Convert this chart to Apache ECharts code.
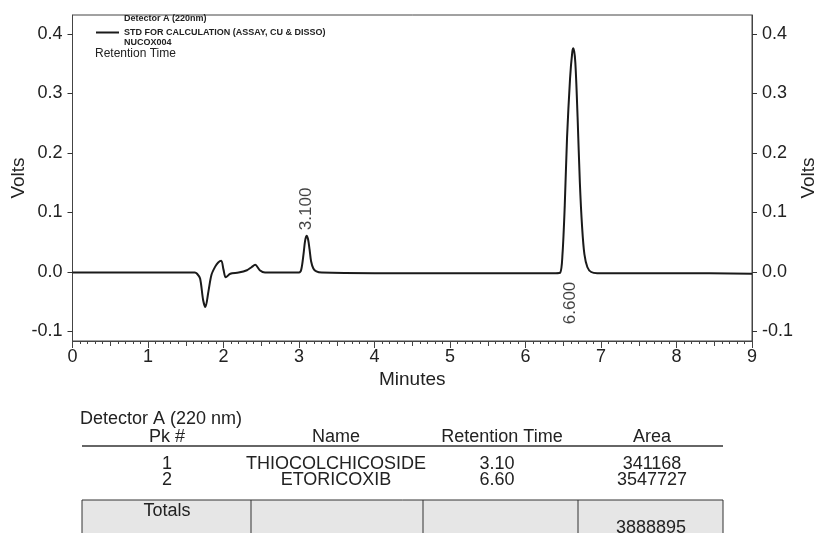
<!DOCTYPE html>
<html>
<head>
<meta charset="utf-8">
<title>Chromatogram</title>
<script src="https://cdn.jsdelivr.net/npm/echarts@6/dist/echarts.min.js"></script>
<style>
html, body { margin: 0; padding: 0; background: #fff; }
#main { width: 817px; height: 533px; }
</style>
</head>
<body>
<div id="main"></div>
<script>
// trace: time (min) / signal (V)
var shijian = [0.00, 0.50, 1.00, 1.50, 1.62, 1.65, 1.69, 1.73, 1.76, 1.80, 1.84, 1.89, 1.93, 1.97, 2.00, 2.03,
    2.09, 2.20, 2.31, 2.37, 2.42, 2.48, 2.55, 2.80, 3.00, 3.03, 3.06, 3.08, 3.10, 3.12, 3.14, 3.16,
    3.19, 3.23, 3.30, 4.00, 5.00, 6.00, 6.40, 6.46, 6.49, 6.52, 6.55, 6.59, 6.62, 6.635, 6.66, 6.69,
    6.72, 6.75, 6.78, 6.82, 6.87, 6.95, 7.50, 8.00, 9.00];
var volts = [-0.001, -0.001, -0.001, -0.001, -0.001, -0.003, -0.011, -0.047, -0.059, -0.033, -0.005, 0.009, 0.016, 0.019, 0.004, -0.009,
    -0.003, -0.001, 0.003, 0.008, 0.012, 0.003, -0.001, -0.001, -0.001, 0.004, 0.030, 0.052, 0.061, 0.055, 0.038, 0.018,
    0.006, 0.001, -0.001, -0.002, -0.002, -0.002, -0.002, -0.001, 0.030, 0.112, 0.225, 0.325, 0.370, 0.376, 0.352, 0.260,
    0.150, 0.075, 0.030, 0.008, 0.000, -0.002, -0.002, -0.002, -0.003];

var yTicks = [-0.1, 0, 0.1, 0.2, 0.3, 0.4];

// peak annotations
var peakTime = [3.10, 6.60];
var peakVolt = [0.061, -0.002];
var peakLabel = ['3.100', '6.600'];

// result table
var colHeaders = ['Pk #', 'Name', 'Retention Time', 'Area'];
var pkNum = ['1', '2'];
var pkName = ['THIOCOLCHICOSIDE', 'ETORICOXIB'];
var retTime = ['3.10', '6.60'];
var area = ['341168', '3547727'];
var totalArea = '3888895';

var seriesName = 'STD FOR CALCULATION (ASSAY, CU & DISSO)';
var font = 'Liberation Sans';

var dom = document.getElementById('main');
var myChart = echarts.init(dom, null, {renderer: 'canvas'});

var lineData = [];
for (var i = 0; i < shijian.length; i++) {
    lineData.push([shijian[i], volts[i]]);
}

var peakData = [];
for (var j = 0; j < peakTime.length; j++) {
    var up = peakVolt[j] > 0.02;
    peakData.push({
        value: [peakTime[j], peakVolt[j]],
        label: {
            position: up ? 'top' : 'bottom',
            align: up ? 'left' : 'right',
            distance: up ? 5 : 8,
            formatter: peakLabel[j]
        }
    });
}

// table drawn with graphic
var colX = [167, 336, 502, 652];
var tbl = [];
tbl.push({type: 'text', left: 80, top: 410, style: {text: 'Detector A (220 nm)', font: '18px ' + font, fill: '#222'}});
for (var c = 0; c < colHeaders.length; c++) {
    tbl.push({type: 'text', x: colX[c], y: 437, style: {text: colHeaders[c], font: '18px ' + font, fill: '#222', align: 'center', verticalAlign: 'middle'}});
}
tbl.push({type: 'line', shape: {x1: 82, y1: 446, x2: 723, y2: 446}, style: {stroke: '#333', lineWidth: 1.5}});
var rows = [pkNum, pkName, retTime, area];
for (var r = 0; r < pkNum.length; r++) {
    for (var c2 = 0; c2 < rows.length; c2++) {
        tbl.push({type: 'text', x: c2 == 2 ? 497 : colX[c2], y: 464 + r * 16, style: {text: rows[c2][r], font: '18px ' + font, fill: '#222', align: 'center', verticalAlign: 'middle'}});
    }
}
tbl.push({type: 'rect', shape: {x: 82, y: 500, width: 641, height: 40}, style: {fill: '#e6e6e6', stroke: '#333', lineWidth: 1}});
var div = [251, 423, 578];
for (var d = 0; d < div.length; d++) {
    tbl.push({type: 'line', shape: {x1: div[d], y1: 500, x2: div[d], y2: 540}, style: {stroke: '#333', lineWidth: 1}});
}
tbl.push({type: 'text', x: 167, y: 511, style: {text: 'Totals', font: '18px ' + font, fill: '#222', align: 'center', verticalAlign: 'middle'}});
tbl.push({type: 'text', x: 651, y: 528, style: {text: totalArea, font: '18px ' + font, fill: '#222', align: 'center', verticalAlign: 'middle'}});

// header text inside the plot
var head = [
    {type: 'text', left: 124, top: 14, style: {text: 'Detector A (220nm)', font: 'bold 9px ' + font, fill: '#222'}},
    {type: 'text', left: 124, top: 38, style: {text: 'NUCOX004', font: 'bold 9px ' + font, fill: '#222'}},
    {type: 'text', left: 95, top: 48, style: {text: 'Retention Time', font: '12px ' + font, fill: '#222'}}
];

var option = {
    animation: false,
    backgroundColor: '#fff',
    textStyle: {fontFamily: font},
    grid: {
        left: 72.5,
        right: 65,
        top: 15,
        bottom: 192,
        outerBoundsMode: 'none',
        containLabel: false,
        show: true,
        borderColor: '#444',
        borderWidth: 1
    },
    legend: {
        data: [seriesName],
        left: 96,
        top: 28,
        padding: 0,
        icon: 'rect',
        itemWidth: 23,
        itemHeight: 2,
        itemGap: 4,
        textStyle: {fontSize: 9, fontWeight: 'bold', color: '#222', fontFamily: font}
    },
    xAxis: [{
        type: 'value',
        min: 0,
        max: 9,
        interval: 0.5,
        name: 'Minutes',
        nameLocation: 'middle',
        nameGap: 29,
        nameMoveOverlap: false,
        nameTextStyle: {fontSize: 19, color: '#222'},
        axisLine: {onZero: false, lineStyle: {color: '#444', width: 1}},
        axisTick: {length: 5, lineStyle: {color: '#444'}},
        minorTick: {show: true, splitNumber: 5, length: 3, lineStyle: {color: '#444'}},
        axisLabel: {
            fontSize: 18, color: '#222', margin: 7,
            formatter: function (v) {
                return v % 1 === 0 ? String(v) : '';
            }
        },
        splitLine: {show: false}
    }, {
        // longer tick on whole minutes
        type: 'value',
        position: 'bottom',
        min: 0,
        max: 9,
        interval: 1,
        axisLine: {show: false, onZero: false},
        axisTick: {length: 7, lineStyle: {color: '#444'}},
        axisLabel: {show: false},
        splitLine: {show: false}
    }],
    yAxis: [{
        type: 'value',
        min: -0.116,
        max: 0.432,
        name: 'Volts',
        nameLocation: 'middle',
        nameGap: 44,
        nameMoveOverlap: false,
        nameTextStyle: {fontSize: 19, color: '#222'},
        axisLine: {show: true, onZero: false, lineStyle: {color: '#444'}},
        axisTick: {show: true, length: 5, customValues: yTicks, lineStyle: {color: '#333'}},
        axisLabel: {
            customValues: yTicks, fontSize: 18, color: '#222', margin: 10,
            formatter: function (v) { return v.toFixed(1); }
        },
        splitLine: {show: false}
    }, {
        type: 'value',
        position: 'right',
        min: -0.116,
        max: 0.432,
        name: 'Volts',
        nameLocation: 'middle',
        nameGap: 47,
        nameRotate: 90,
        nameMoveOverlap: false,
        nameTextStyle: {fontSize: 19, color: '#222'},
        axisLine: {show: true, onZero: false, lineStyle: {color: '#444'}},
        axisTick: {show: true, length: 5, customValues: yTicks, lineStyle: {color: '#333'}},
        axisLabel: {
            customValues: yTicks, fontSize: 18, color: '#222', margin: 10,
            formatter: function (v) { return v.toFixed(1); }
        },
        splitLine: {show: false}
    }],
    graphic: head.concat(tbl),
    series: [
        {
            name: seriesName,
            type: 'line',
            data: lineData,
            showSymbol: false,
            symbol: 'none',
            smooth: 0.3,
            color: '#1a1a1a',
            lineStyle: {color: '#1a1a1a', width: 2}
        },
        {
            name: 'peaks',
            type: 'scatter',
            data: peakData,
            symbolSize: 1,
            itemStyle: {color: 'rgba(0,0,0,0)'},
            label: {
                show: true,
                rotate: 90,
                verticalAlign: 'middle',
                fontSize: 17,
                color: '#111'
            },
            emphasis: {disabled: true}
        }
    ]
};

myChart.setOption(option);
</script>
</body>
</html>
